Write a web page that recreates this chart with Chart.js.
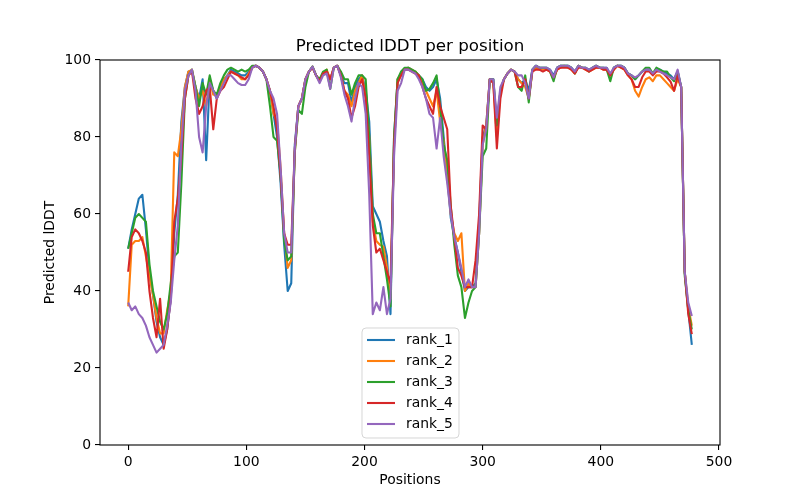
<!DOCTYPE html>
<html>
<head>
<meta charset="utf-8">
<script src="https://cdn.jsdelivr.net/npm/chart.js@4/dist/chart.umd.min.js"></script>
<style>
html,body{margin:0;padding:0;background:#fff;}
canvas{display:block;}
</style>
</head>
<body>
<canvas id="c" width="800" height="500"></canvas>
<script>
const positions = [0,3,6,9,12,15,18,21,24,27,30,33,36,39,42,45,48,51,54,57,60,63,66,69,72,75,78,81,84,87,90,93,96,99,102,105,108,111,114,117,120,123,126,129,132,135,138,141,144,147,150,153,156,159,162,165,168,171,174,177,180,183,186,189,192,195,198,201,204,207,210,213,216,219,222,225,228,231,234,237,240,243,246,249,252,255,258,261,264,267,270,273,276,279,282,285,288,291,294,297,300,303,306,309,312,315,318,321,324,327,330,333,336,339,342,345,348,351,354,357,360,363,366,369,372,375,378,381,384,387,390,393,396,399,402,405,408,411,414,417,420,423,426,429,432,435,438,441,444,447,450,453,456,459,462,465,468,471,474,477];

const rank1 = [51,56,60,64,65,56,45,39,32,28, 26,30,38,55,65,84,93,97,97,93, 90,95,74,95,92,90,93,95,96,97.5, 97,96.5,96,96,97,98,98.5,98,97,95, 92,86,80,68,52,40,42,78,88,90, 95,97,98.3,96,94.5,96.5,97,95,98,98.5, 96,94,94,89,93,95,96,92,84,62, 60,58,53,49,34,80,95,96,97.5,98, 97.5,97,96,95,93,92,93,95,90,80, 70,59,54,50,45,40,41,41,42,58, 80,83,95,95,82,92,95,96.5,97.5,97, 95,94,95,92,97.5,98.5,98,98,98,97.5, 96,98,98.5,98.5,98.5,98,97,98.5,98,98, 97.5,98,98.5,98,98,98,96,98,98.5,98.5, 98,96.5,96,95,96,97,97.5,97.5,96.5,97.5, 97.5,97,96.5,96,95,97,93,45,35,26];

const rank2 = [36,52,53,53,54,49,44,39,33,29, 29,35,40,76,75,82,93,97,97.5,93, 90,92,88,95,91,91,93,95,96,97, 96.5,96,95,95,96.5,98,98.5,98,97,95, 92,86,84,72,55,46,48,76,88,90, 95,97,98.3,96,94.5,96.5,97.5,95,98,98.5, 96,92,91,88,92,94,96,90,80,58, 53,52,51.5,46,38,78,95,96.5,97.5,98, 97.5,97,96,94,92,90,88,92,84,79, 70,60,55,53,55,40,42,41,41,55, 78,83,95,94,80,92,95,96.5,97.5,97, 95,94,93,90,97,98,97.5,97.5,97.5,97, 95,97.5,98,98.5,98,97.5,96.5,98.5,98,97.5, 97,97.5,98,98,97.5,97.5,96,97.5,98.5,98, 97.5,96,95,92,90.5,93,95,95.5,94.5,96, 96,95,94,93,92,95,93,45,36,31];

const rank3 = [51,55,59,60,59,58,47,40,36,32, 30,34,42,49,50,68,90,96,97.5,93, 88,94,91,96,92,91,94,96,97.5,98, 97.5,97,97.5,97,97.5,98.5,98.5,98,97,95, 88,80,79,70,53,48,49,76,87,86, 93,97,98.3,96,95,97,97.5,92.5,98,98.5, 97,95,95,91,94,96,96,95,80,60, 55,55,49,43,36,80,95,97,98,98, 97.5,97,96,95,92,92.5,94,96,88,78, 74,62,52,44,41,33,37,40,41,55, 75,77,95,95,83,92,95,96.5,97.5,97, 93,92,96,89,97.5,98.5,98,98,98,97, 94.5,98,98.5,98.5,98.5,98,96.5,98.5,98,98, 97,98,98.5,98,98,97.5,94.5,98,98.5,98.5, 98,96.5,96,95,96,97,98,98,96.5,98, 97.5,97,97,95.5,94.5,97,93,44,35,30];

const rank4 = [45,54,56,55,53,50,40,33,28,38, 25,30,38,58,64,75,90,96,97,90, 86,88,92,93,82,90,92,93,95,97, 96.5,96,95.5,95,96,98,98.5,98,97,95, 92,88,82,70,55,52,52,77,88,90, 95,97,98,96,94.5,96.5,97,95,98,98.5, 96,92,90,85,88,93,95,90,75,57, 50,51,48,45,42,78,94,96,97.5,97.5, 97,96.5,96,93,90,88,86,93,88,85, 82,62,54,46,44,41,41,41,48,60, 83,82,95,94,77,90,95,96.5,97.5,97, 93,93,95,90,97,97.5,97.5,97,97.5,97, 95.5,97.5,98,98,98,97.5,96.5,98,98,97.5, 97,97.5,98,98,97.5,97.5,96,97.5,98.5,98, 97.5,96,95,93,93,95.5,97,97,96,97, 97,96.5,95.5,94.4,92,96,93,45,34,28.8];

const rank5 = [37,35,36,34,33,31,28,26,24,25, 26,31,37,48,57,78,92,96,97.5,92, 80,76,88,94,92,90,92,94,96,96, 95,94,93.5,93.5,95,98,98.5,98,97,95, 92,90,86,72,55,50,50,77,88,90, 95,97,98.3,96,94,96,96.5,92.5,98,98.5, 95.5,91,88,84,90,94,93,86,65,34, 37,35,41,34,38,75,92,94,97.5,97.5, 97,96.5,95,93,90,86,85,77,85,75, 68,60,54,50,46,41,43,41,41,55, 78,82,95,95,85,93,95,96.5,97.5,97, 96,96,94,90,97.5,98.5,98,98,98,97.5, 95.5,98,98.5,98.5,98.5,98,97,98.5,98,98, 97.5,98,98.5,98,98,98,96.5,98,98.5,98.5, 98,96.5,96,95.5,96,97,97.5,97.5,96.5,97.5, 97,96.5,96,95.5,95,97.5,93,45,37,33.5];

const seriesNames = ['rank_1','rank_2','rank_3','rank_4','rank_5'];
const seriesValues = [rank1, rank2, rank3, rank4, rank5];
const seriesColors = ['#1f77b4','#ff7f0e','#2ca02c','#d62728','#9467bd'];
const xTicks = [0,100,200,300,400,500];
const yTicks = [0,20,40,60,80,100];
const titleText = 'Predicted lDDT per position';
const xLabel = 'Positions';
const yLabel = 'Predicted lDDT';

const FONT = '"DejaVu Sans", sans-serif';

const datasets = seriesNames.map((name, i) => ({
  label: name,
  data: positions.map((p, j) => ({x: p, y: seriesValues[i][j]})),
  borderColor: seriesColors[i],
  backgroundColor: seriesColors[i],
  borderWidth: 2.1,
  pointRadius: 0,
  fill: false,
  tension: 0,
  borderJoinStyle: 'round',
  order: seriesNames.length - 1 - i
}));

const decor = {
  id: 'decor',
  afterDatasetsDraw(chart) {
    const ctx = chart.ctx;
    const a = chart.chartArea;
    ctx.save();
    ctx.strokeStyle = '#000';
    ctx.lineWidth = 1.1;
    ctx.strokeRect(a.left, a.top, a.right - a.left, a.bottom - a.top);
    const bx = 362, by = 328, bw = 97, bh = 110, r = 4;
    ctx.beginPath();
    ctx.moveTo(bx + r, by);
    ctx.lineTo(bx + bw - r, by);
    ctx.quadraticCurveTo(bx + bw, by, bx + bw, by + r);
    ctx.lineTo(bx + bw, by + bh - r);
    ctx.quadraticCurveTo(bx + bw, by + bh, bx + bw - r, by + bh);
    ctx.lineTo(bx + r, by + bh);
    ctx.quadraticCurveTo(bx, by + bh, bx, by + bh - r);
    ctx.lineTo(bx, by + r);
    ctx.quadraticCurveTo(bx, by, bx + r, by);
    ctx.closePath();
    ctx.fillStyle = 'rgba(255,255,255,0.8)';
    ctx.fill();
    ctx.strokeStyle = 'rgba(204,204,204,0.8)';
    ctx.lineWidth = 1;
    ctx.stroke();
    ctx.font = '13.9px ' + FONT;
    ctx.textBaseline = 'middle';
    ctx.textAlign = 'left';
    chart.data.datasets.forEach((ds, i) => {
      const yy = 340 + i * 21;
      ctx.strokeStyle = ds.borderColor;
      ctx.lineWidth = 2.1;
      ctx.beginPath();
      ctx.moveTo(367, yy);
      ctx.lineTo(395, yy);
      ctx.stroke();
      ctx.fillStyle = '#000';
      ctx.fillText(ds.label, 406, yy + 0.5);
    });
    ctx.restore();
  },
  afterDraw(chart) {
    const ctx = chart.ctx;
    const a = chart.chartArea;
    const cx = (a.left + a.right) / 2;
    ctx.save();
    ctx.fillStyle = '#000';
    ctx.textAlign = 'center';
    ctx.textBaseline = 'alphabetic';
    ctx.font = '16.7px ' + FONT;
    ctx.fillText(titleText, cx, 51);
    ctx.font = '13.9px ' + FONT;
    ctx.fillText(xLabel, cx, 484);
    ctx.translate(50, (a.top + a.bottom) / 2);
    ctx.rotate(-Math.PI / 2);
    ctx.textBaseline = 'middle';
    ctx.fillText(yLabel, 0, 0);
    ctx.restore();
  }
};

new Chart(document.getElementById('c'), {
  type: 'line',
  data: {datasets},
  options: {
    responsive: false,
    animation: false,
    devicePixelRatio: 1,
    layout: {padding: {left: 0, right: 80, top: 60, bottom: 0}},
    plugins: {legend: {display: false}, title: {display: false}, tooltip: {enabled: false}},
    scales: {
      x: {
        type: 'linear',
        min: -23.85,
        max: 500.85,
        afterFit: s => { s.height = 55; },
        afterBuildTicks: s => { s.ticks = xTicks.map(v => ({value: v})); },
        grid: {drawOnChartArea: false, drawTicks: true, tickLength: 5, color: '#000', lineWidth: 1.1},
        border: {display: false},
        ticks: {color: '#000', font: {family: FONT, size: 13.9}, padding: 4, maxRotation: 0, autoSkip: false}
      },
      y: {
        type: 'linear',
        min: 0,
        max: 100,
        afterFit: s => { s.width = 100; },
        afterBuildTicks: s => { s.ticks = yTicks.map(v => ({value: v})); },
        grid: {drawOnChartArea: false, drawTicks: true, tickLength: 5, color: '#000', lineWidth: 1.1},
        border: {display: false},
        ticks: {color: '#000', font: {family: FONT, size: 13.9}, padding: 4, autoSkip: false}
      }
    }
  },
  plugins: [decor]
});
</script>
</body>
</html>
